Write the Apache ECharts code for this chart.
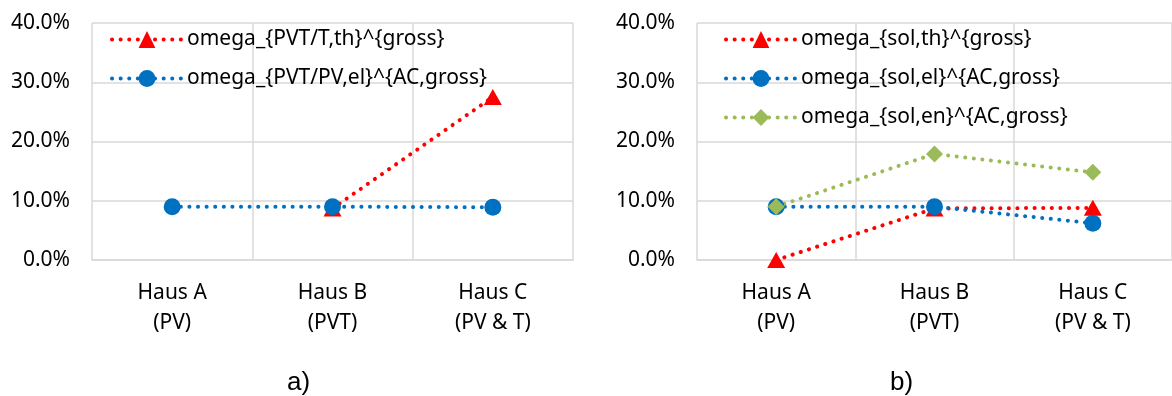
<!DOCTYPE html>
<html>
<head>
<meta charset="utf-8">
<script src="https://cdn.jsdelivr.net/npm/echarts@6/dist/echarts.min.js"></script>
<style>html,body{margin:0;padding:0;background:#fff}#c{width:1172px;height:396px}</style>
</head>
<body>
<div id="c"></div>
<script>
var categories = ['Haus A\n(PV)', 'Haus B\n(PVT)', 'Haus C\n(PV & T)'];
var yTicks = [0, 10, 20, 30, 40];

// chart a)
var aNames = ['omega_{PVT/T,th}^{gross}', 'omega_{PVT/PV,el}^{AC,gross}'];
var aThermal = [null, 8.7, 27.5];
var aElectric = [9.0, 9.0, 8.9];

// chart b)
var bNames = ['omega_{sol,th}^{gross}', 'omega_{sol,el}^{AC,gross}', 'omega_{sol,en}^{AC,gross}'];
var bThermal = [0.0, 8.7, 8.8];
var bElectric = [9.0, 9.0, 6.2];
var bEnergy = [9.0, 17.9, 14.8];

var panelLabels = ['a)', 'b)'];

var FONT = 'Noto Sans';
var FS = 21;
var GRID = '#D9D9D9';
var RED = '#FF0000', BLUE = '#0070C0', GREEN = '#9BBB59';

function xAxis(idx) {
  return {
    type: 'category', gridIndex: idx, data: categories, boundaryGap: true,
    axisLine: {show: true, lineStyle: {color: GRID, width: 1.5}},
    axisTick: {show: false},
    splitLine: {show: true, lineStyle: {color: GRID, width: 1.5}},
    axisLabel: {color: '#000', fontFamily: FONT, fontSize: FS, lineHeight: 30, margin: 18, interval: 0}
  };
}
function yAxis(idx) {
  return {
    type: 'value', gridIndex: idx, min: yTicks[0], max: yTicks[yTicks.length - 1], interval: 10,
    axisLine: {show: false}, axisTick: {show: false},
    splitLine: {show: true, lineStyle: {color: GRID, width: 1.5}},
    axisLabel: {color: '#000', fontFamily: FONT, fontSize: FS, margin: 22,
      formatter: function (v) { return v.toFixed(1) + '%'; }}
  };
}
var dot = {width: 4, type: [0.1, 8.5], cap: 'round'};
function series(name, data, color, symbol, size, idx) {
  return {
    type: 'line', name: name, data: data, xAxisIndex: idx, yAxisIndex: idx,
    symbol: symbol, symbolSize: size, showAllSymbol: true,
    itemStyle: {color: color},
    lineStyle: Object.assign({color: color}, dot),
    connectNulls: false, animation: false, z: 3
  };
}
function legend(idx, names, left) {
  return {
    show: true, data: names, orient: 'vertical', left: left, top: 29,
    itemWidth: 70, itemHeight: 21, itemGap: 18, padding: 0,
    lineStyle: {width: 4, type: [0.1, 8.5], cap: 'round'},
    textStyle: {color: '#000', fontFamily: FONT, fontSize: FS, lineHeight: 21},
    selectedMode: false
  };
}

var chart = echarts.init(document.getElementById('c'), null, {renderer: 'canvas'});
chart.setOption({
  animation: false,
  backgroundColor: '#fff',
  grid: [
    {left: 92, top: 23, width: 481, height: 237},
    {left: 697, top: 23, width: 481, height: 237}
  ],
  xAxis: [xAxis(0), xAxis(1)],
  yAxis: [yAxis(0), yAxis(1)],
  legend: [legend(0, aNames, 110), legend(1, bNames, 724)],
  series: [
    series(aNames[0], aThermal, RED, 'triangle', [18, 16], 0),
    series(aNames[1], aElectric, BLUE, 'circle', 17, 0),
    series(bNames[0], bThermal, RED, 'triangle', [18, 16], 1),
    series(bNames[1], bElectric, BLUE, 'circle', 17, 1),
    series(bNames[2], bEnergy, GREEN, 'diamond', 17, 1)
  ],
  graphic: [
    {type: 'text', left: 287, top: 370, style: {text: panelLabels[0], font: '26px "Liberation Sans", Arial', fill: '#000'}},
    {type: 'text', left: 890, top: 370, style: {text: panelLabels[1], font: '26px "Liberation Sans", Arial', fill: '#000'}}
  ]
});
</script>
</body>
</html>
